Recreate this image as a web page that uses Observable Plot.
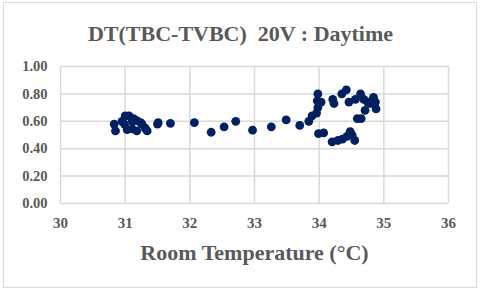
<!DOCTYPE html>
<html>
<head>
<meta charset="utf-8">
<script src="https://cdn.jsdelivr.net/npm/d3@7"></script>
<script src="https://cdn.jsdelivr.net/npm/@observablehq/plot@0.6"></script>
<style>
  html, body { margin: 0; padding: 0; background: #fff; }
  #wrap { position: relative; width: 480px; height: 290px; }
  #border { position: absolute; left: 3px; top: 2px; width: 472px; height: 284px; border: 1px solid #d9d9d9; pointer-events: none; }
</style>
</head>
<body>
<div id="wrap"><div id="border"></div></div>
<script>
const title = "DT(TBC-TVBC)  20V : Daytime";
const xLabel = "Room Temperature (°C)";
const xTicks = [30, 31, 32, 33, 34, 35, 36];
const yTicks = [0, 0.2, 0.4, 0.6, 0.8, 1.0];

const roomTemp = [
  30.83, 30.85, 30.95, 31.00, 31.06, 30.99, 31.03, 31.11, 31.13, 31.18,
  31.24, 31.26, 31.31, 31.34, 31.11, 31.18, 31.50, 31.51, 31.70,
  32.07, 32.33, 32.53, 32.71, 32.97, 33.26, 33.49, 33.70, 33.84, 33.89,
  33.96, 33.98, 33.99, 33.97, 33.98, 34.03, 33.99, 34.07,
  34.21, 34.23, 34.20, 34.29, 34.36, 34.43, 34.48, 34.51, 34.55,
  34.35, 34.42, 34.46, 34.56, 34.64, 34.69, 34.75,
  34.84, 34.87, 34.79, 34.88, 34.71, 34.59, 34.65
];
const dtValue = [
  0.58, 0.53, 0.60, 0.64, 0.64, 0.58, 0.54, 0.60, 0.62, 0.605,
  0.59, 0.58, 0.55, 0.53, 0.545, 0.53, 0.58, 0.59, 0.585,
  0.59, 0.52, 0.56, 0.60, 0.535, 0.56, 0.61, 0.57, 0.60, 0.64,
  0.66, 0.70, 0.74, 0.75, 0.80, 0.74, 0.51, 0.515,
  0.76, 0.73, 0.45, 0.46, 0.47, 0.49, 0.525, 0.50, 0.46,
  0.80, 0.83, 0.74, 0.76, 0.80, 0.76, 0.74,
  0.775, 0.74, 0.73, 0.69, 0.68, 0.62, 0.62
];

const data = roomTemp.map((t, i) => ({t, v: dtValue[i]}));
const textColor = "#595959";
const font = "'Liberation Serif', 'Times New Roman', serif";

const chart = Plot.plot({
  width: 480,
  height: 290,
  marginLeft: 60,
  marginRight: 32,
  marginTop: 66,
  marginBottom: 87,
  style: {fontFamily: font, background: "transparent", overflow: "visible"},
  x: {domain: [30, 36], ticks: xTicks, label: null},
  y: {domain: [0, 1], ticks: yTicks, label: null},
  marks: [
    Plot.gridX(xTicks, {stroke: "#d9d9d9", strokeOpacity: 1, strokeWidth: 1.5}),
    Plot.gridY(yTicks, {stroke: "#d9d9d9", strokeOpacity: 1, strokeWidth: 1.5}),
    Plot.axisX(xTicks, {tickSize: 0, tickPadding: 14, fontSize: 15, fontWeight: "bold", fill: textColor, label: null}),
    Plot.axisY(yTicks, {tickSize: 0, tickPadding: 13, fontSize: 14.5, fontWeight: "bold", fill: textColor, label: null, tickFormat: d => d.toFixed(2)}),
    Plot.dot(data, {x: "t", y: "v", r: 4.4, fill: "#002060", stroke: "none"}),
    Plot.text([title], {frameAnchor: "top", lineAnchor: "middle", dx: -14, dy: -33, fontSize: 22, fontWeight: "bold", fill: textColor, fontFamily: font}),
    Plot.text([xLabel], {frameAnchor: "bottom", lineAnchor: "middle", dy: 49, fontSize: 22, fontWeight: "bold", fill: textColor, fontFamily: font})
  ]
});
document.getElementById("wrap").prepend(chart);
</script>
</body>
</html>
